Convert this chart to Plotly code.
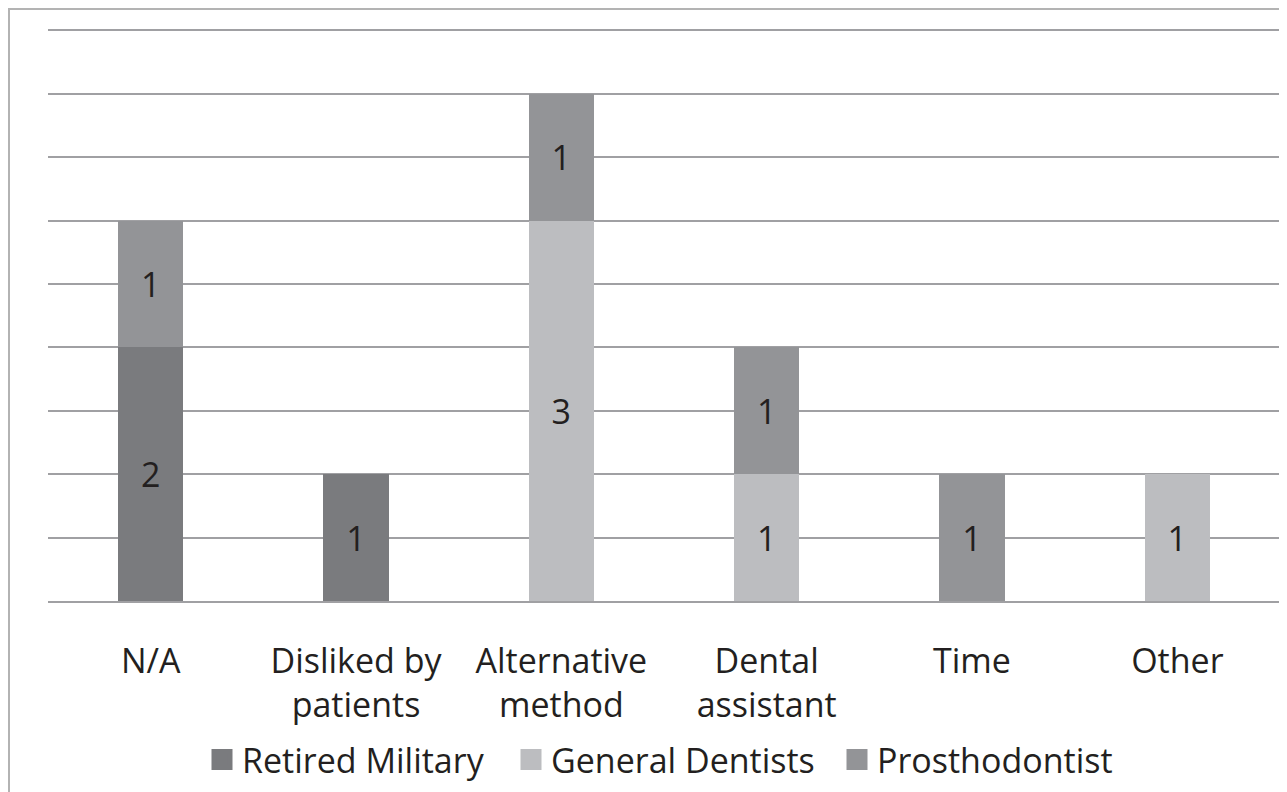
import plotly.graph_objects as go

categories = ["N/A", "Disliked by<br>patients", "Alternative<br>method", "Dental<br>assistant", "Time", "Other"]
series_names = ["Retired Military", "General Dentists", "Prosthodontist"]
retired_military = [2, 1, 0, 0, 0, 0]
general_dentists = [0, 0, 3, 1, 0, 1]
prosthodontist = [1, 0, 1, 1, 1, 0]
colors = ["#7a7b7e", "#bcbdc0", "#939497"]

FS = 34
# page body has an 8px margin; figure coordinates are screen - 8
W, H = 1287, 792
L, R, T, B = 40, 15, 16, 199
pw, ph = W - L - R, H - T - B
legend_names = ["legend", "legend2", "legend3"]
legend_left_px = [194, 503, 829]

fig = go.Figure()
for name, vals, col in zip(series_names, [retired_military, general_dentists, prosthodontist], colors):
    fig.add_trace(go.Bar(
        x=categories,
        y=[v if v else None for v in vals],
        name=name,
        showlegend=False,
        marker=dict(color=col, line=dict(width=0)),
        text=[str(v) if v else "" for v in vals],
        textposition="inside",
        insidetextanchor="middle",
        textangle=0,
        textfont=dict(size=FS, color="#231f20", family="Open Sans"),
        constraintext="none",
    ))
# legend entries (square swatches)
for name, col, lg in zip(series_names, colors, legend_names):
    fig.add_trace(go.Scatter(
        x=[None], y=[None], mode="markers", name=name, legend=lg,
        marker=dict(symbol="square", size=16, color=col, line=dict(color=col, width=5)),
    ))

legend_common = dict(orientation="h", xanchor="left", yanchor="middle",
                     y=(H - B - 752) / ph, font=dict(size=FS), itemwidth=30,
                     bgcolor="rgba(0,0,0,0)")

fig.update_layout(
    width=W, height=H,
    barmode="stack",
    bargap=0.683,
    plot_bgcolor="white",
    paper_bgcolor="white",
    margin=dict(l=L, r=R, t=T, b=B, autoexpand=False),
    font=dict(family="Open Sans", size=FS, color="#231f20"),
    uniformtext=dict(minsize=FS, mode="show"),
    xaxis=dict(
        showgrid=False, showline=True, linecolor="#a0a0a3", linewidth=2,
        ticks="", tickfont=dict(size=FS), ticklabelstandoff=29, automargin=False,
    ),
    yaxis=dict(
        range=[0, 4.55], tick0=0, dtick=0.5, showticklabels=False,
        showgrid=True, gridcolor="#a0a0a3", gridwidth=2,
        zeroline=False, showline=False, automargin=False,
    ),
    legend=dict(x=(legend_left_px[0] - L) / pw, **legend_common),
    legend2=dict(x=(legend_left_px[1] - L) / pw, **legend_common),
    legend3=dict(x=(legend_left_px[2] - L) / pw, **legend_common),
    shapes=[dict(
        type="rect", xref="paper", yref="paper",
        x0=(1 - L) / pw, x1=(W + 5 - L) / pw,
        y0=(H - B - (H + 5)) / ph, y1=(H - B - 1) / ph,
        line=dict(color="#b3b3b3", width=2), layer="below",
    )],
)

fig.write_html("out.html")
